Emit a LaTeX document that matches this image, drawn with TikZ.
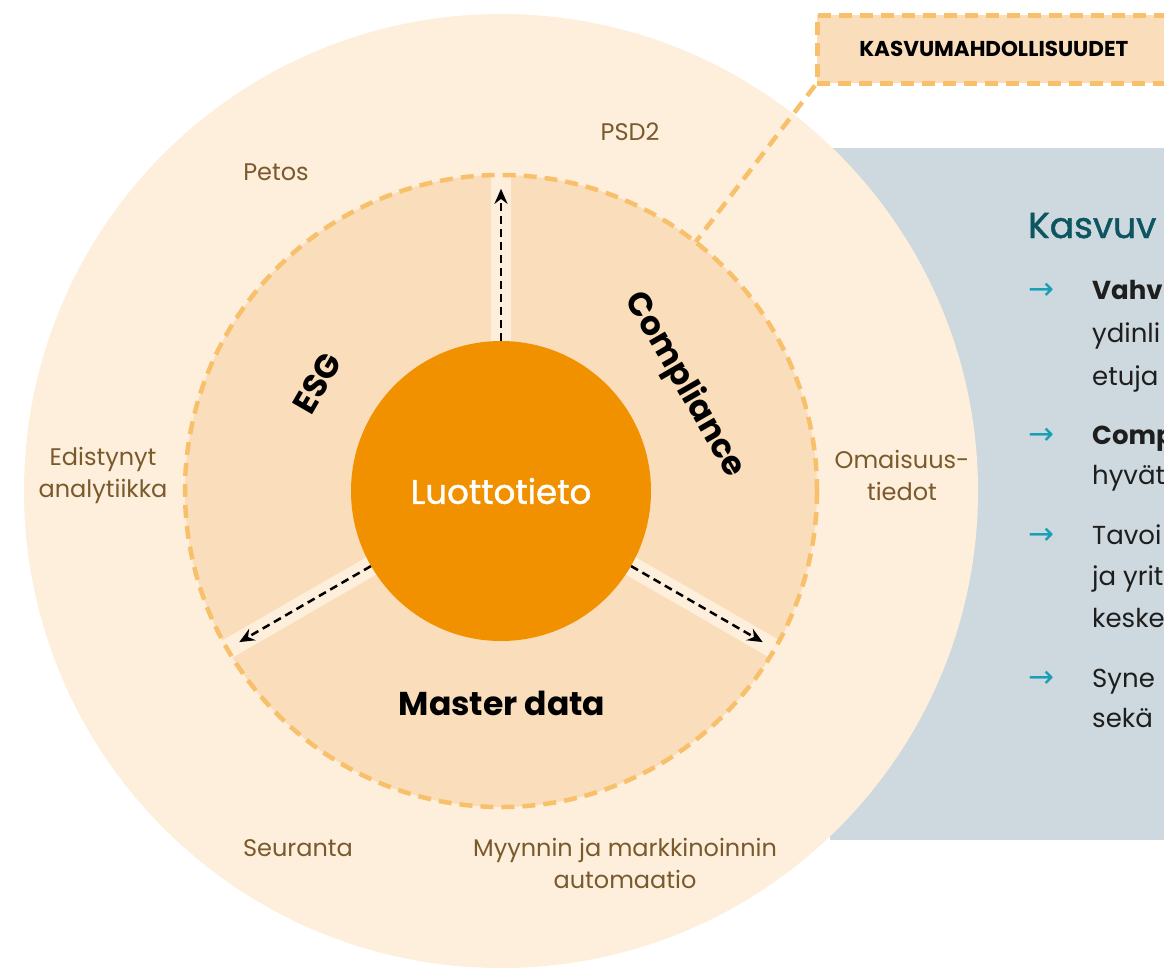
\documentclass[tikz,border=0pt]{standalone}
\usepackage{fontspec}
\setmainfont{Poppins}
\newfontfamily\medfont[FakeBold=1.3]{Poppins}
\newfontfamily\arrowfont{DejaVu Sans}
\usetikzlibrary{arrows.meta}
\definecolor{outerc}{HTML}{FDEFDB}
\definecolor{ringc}{HTML}{FADDBA}
\definecolor{corec}{HTML}{F29100}
\definecolor{dashc}{HTML}{F8C06A}
\definecolor{labc}{HTML}{7A5A2C}
\definecolor{panelc}{HTML}{CDD9DE}
\definecolor{headc}{HTML}{0E5562}
\definecolor{bulc}{HTML}{1A9FB6}
\definecolor{bodyc}{HTML}{1E1E1E}
\tikzset{
  lab/.style={text=labc, font=\fontsize{24}{32}\selectfont, align=center, inner sep=0pt},
  body/.style={anchor=base west, text=bodyc, font=\fontsize{26}{30}\selectfont, inner sep=0pt},
  bul/.style={anchor=base west, text=bulc, font=\arrowfont\fontsize{31}{34}\selectfont, inner sep=0pt},
  dashline/.style={draw=dashc, line width=4.5pt, dash pattern=on 13pt off 8pt},
  gapstrip/.style={draw=outerc, line width=20pt},
  flow/.style={draw=black, line width=2.5pt, dash pattern=on 8pt off 5pt, -{Stealth[length=15pt,width=13pt]}, shorten >=14pt},
  sector/.style={text=black, font=\bfseries\fontsize{33}{38}\selectfont, inner sep=0pt}
}
\begin{document}
\begin{tikzpicture}[x=1pt,y=-1pt]
\useasboundingbox (0,0) rectangle (1164,967);
\clip (0,0) rectangle (1164,967);
% right panel
\fill[panelc] (830,148) rectangle (1170,840);
% outer disc
\node[circle, fill=outerc, minimum size=954pt, inner sep=0pt] (outer) at (501,491) {};
% ring
\node[circle, fill=ringc, minimum size=632pt, inner sep=0pt] (inner) at (501,491) {};
% gaps
\draw[gapstrip] (inner.center) -- (inner.90);
\draw[gapstrip] (inner.center) -- (inner.210);
\draw[gapstrip] (inner.center) -- (inner.330);
% dashed ring border
\draw[dashline] (inner.center) circle[radius=316];
% core
\node[circle, fill=corec, minimum size=300pt, inner sep=0pt, text=white, font=\medfont\fontsize{34}{38}\selectfont] (core) at (501,491) {Luottotieto};
% arrows
\draw[flow] (core.90) -- (inner.90);
\draw[flow] (core.210) -- (inner.210);
\draw[flow] (core.330) -- (inner.330);
% sector labels
\node[sector, rotate=60] (esg) at (317.4,383) {ESG};
\node[sector, rotate=-60] (comp) at (684.6,385) {Compliance};
\node[sector] (master) at (502,703) {Master data};
% outer labels
\node[lab] (psd) at (630,132) {PSD2};
\node[lab] (petos) at (276,172) {Petos};
\node[lab] (edist) at (103,475) {Edistynyt\\analytiikka};
\node[lab] (omai) at (902,475) {Omaisuus-\\tiedot};
\node[lab] (seur) at (298,848) {Seuranta};
\node[lab] (myyn) at (625,863) {Myynnin ja markkinoinnin\\automaatio};
% opportunities box
\node[anchor=north west, draw=dashc, fill=ringc, line width=4.5pt, dash pattern=on 13pt off 8pt,
      minimum height=68pt, text width=330pt, align=left, inner xsep=42pt,
      font=\bfseries\fontsize{21.5}{24}\selectfont] (box) at (815,13) {KASVUMAHDOLLISUUDET};
\draw[dashline] (box.south west) -- (inner.52);
% panel text
\node[anchor=base west, text=headc, font=\medfont\fontsize{36}{40}\selectfont, inner sep=0pt] (head) at (1028,238) {Kasvuv};
\node[bul] (b1) at (1028,299) {→};
\node[body] (t1) at (1092,299) {\bfseries Vahv};
\node[body] (t2) at (1092,342) {ydinli};
\node[body] (t3) at (1092,385) {etuja};
\node[bul] (b2) at (1028,444) {→};
\node[body] (t4) at (1092,444) {\bfseries Comp};
\node[body] (t5) at (1092,484) {hyvät};
\node[bul] (b3) at (1028,544) {→};
\node[body] (t6) at (1092,544) {Tavoi};
\node[body] (t7) at (1092,585) {ja yrit};
\node[body] (t8) at (1092,627) {keske};
\node[bul] (b4) at (1028,687) {→};
\node[body] (t9) at (1092,687) {Syne};
\node[body] (t10) at (1092,727) {sekä};
\end{tikzpicture}
\end{document}
